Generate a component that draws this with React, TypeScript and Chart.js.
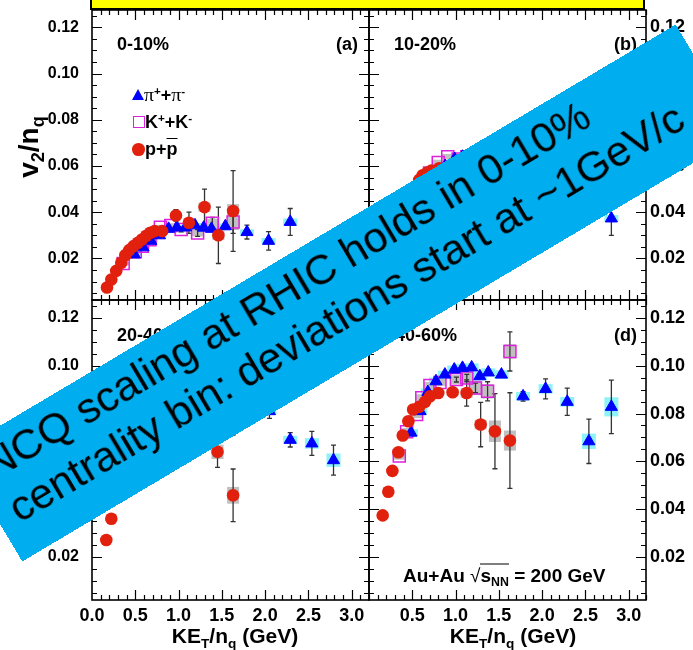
import React, { useEffect, useRef } from "react";
import { Chart, registerables } from "chart.js";

Chart.register(...registerables);

const FONT = "'Liberation Sans', Arial, Helvetica, sans-serif";
const W = 693;
const H = 650;

// ---- axes ----
const xMin = 0;
const xMax = 3.2;
const yMin = 0.002;
const yMax = 0.1275;
const xTickValues = [0, 0.5, 1.0, 1.5, 2.0, 2.5, 3.0];
const yTickValues = [0.02, 0.04, 0.06, 0.08, 0.1, 0.12];
const xMinorStep = 0.1;
const yMinorStep = 0.005;

// ---- panel (a) 0-10% ----
const aPiKE = [0.49, 0.59, 0.68, 0.78, 0.885, 0.98, 1.08, 1.19, 1.29, 1.38, 1.54, 1.79, 2.04, 2.29];
const aPiV = [0.0217, 0.0248, 0.0276, 0.03, 0.0328, 0.0334, 0.0334, 0.0343, 0.0333, 0.0328, 0.0339, 0.0314, 0.0276, 0.0358];
const aPiErr = [0, 0, 0, 0, 0, 0, 0, 0.0006, 0.0008, 0.001, 0.0012, 0.003, 0.004, 0.0058];
const aPiSys = [0.0008, 0.0008, 0.0008, 0.0008, 0.0008, 0.0009, 0.0009, 0.001, 0.001, 0.001, 0.0012, 0.0012, 0.0012, 0.0015];
const aKKE = [0.36, 0.5, 0.58, 0.67, 0.79, 0.91, 1.03, 1.22, 1.39, 1.63];
const aKV = [0.0178, 0.0229, 0.0253, 0.0281, 0.0335, 0.0342, 0.0325, 0.031, 0.0352, 0.0358];
const aKErr = [0, 0, 0, 0, 0, 0, 0.001, 0.0015, 0.0025, 0.005];
const aKSys = [0.0008, 0.0008, 0.0008, 0.0008, 0.001, 0.001, 0.0012, 0.0015, 0.002, 0.0035];
const aPKE = [0.173, 0.223, 0.28, 0.338, 0.385, 0.43, 0.48, 0.53, 0.577, 0.627, 0.673, 0.723, 0.81, 0.97, 1.12, 1.3, 1.46, 1.63];
const aPV = [0.0074, 0.0109, 0.0146, 0.0181, 0.0214, 0.0236, 0.0253, 0.0268, 0.0282, 0.0298, 0.0311, 0.0318, 0.0318, 0.0386, 0.0354, 0.0422, 0.03, 0.0405];
const aPErr = [0, 0, 0, 0, 0, 0, 0, 0, 0, 0, 0, 0, 0.0008, 0.0025, 0.0046, 0.0078, 0.0122, 0.0175];
const aPSys = [0, 0, 0, 0, 0, 0, 0, 0, 0, 0, 0, 0, 0.0008, 0.001, 0.0015, 0.002, 0.002, 0.003];

// ---- panel (b) 10-20% ----
const bPiKE = [0.49, 0.59, 0.68, 0.78, 0.88, 0.99, 1.08, 1.19, 1.29, 1.38, 1.54, 1.79, 2.04, 2.29, 2.55, 2.8];
const bPiV = [0.046, 0.051, 0.055, 0.058, 0.06, 0.063, 0.064, 0.065, 0.065, 0.065, 0.064, 0.062, 0.06, 0.057, 0.052, 0.0373];
const bPiErr = [0, 0, 0, 0, 0, 0, 0, 0.0008, 0.001, 0.001, 0.0015, 0.002, 0.003, 0.004, 0.0055, 0.0073];
const bPiSys = [0.0009, 0.0009, 0.0009, 0.0009, 0.0009, 0.002, 0.001, 0.001, 0.001, 0.001, 0.0012, 0.0012, 0.0012, 0.0014, 0.0015, 0.0015];
const bKKE = [0.36, 0.44, 0.55, 0.61, 0.7, 0.8, 0.91, 1.03, 1.13, 1.23, 1.37, 1.63];
const bKV = [0.037, 0.043, 0.05, 0.053, 0.057, 0.0615, 0.064, 0.063, 0.064, 0.063, 0.062, 0.066];
const bKErr = [0, 0, 0, 0, 0, 0, 0, 0.001, 0.0015, 0.002, 0.003, 0.007];
const bKSys = [0.001, 0.001, 0.001, 0.001, 0.001, 0.0012, 0.0012, 0.0015, 0.002, 0.002, 0.0025, 0.003];
const bPKE = [0.16, 0.22, 0.27, 0.34, 0.39, 0.455, 0.51, 0.58, 0.62, 0.67, 0.72, 0.81, 0.97, 1.13, 1.29, 1.46, 1.63];
const bPV = [0.017, 0.024, 0.03, 0.036, 0.041, 0.046, 0.05, 0.054, 0.056, 0.057, 0.058, 0.059, 0.061, 0.062, 0.055, 0.056, 0.05];
const bPErr = [0, 0, 0, 0, 0, 0, 0, 0, 0, 0, 0, 0, 0.002, 0.003, 0.005, 0.008, 0.012];
const bPSys = [0, 0, 0, 0, 0, 0, 0, 0, 0, 0, 0, 0, 0.0012, 0.0015, 0.002, 0.0025, 0.003];

// ---- panel (c) 20-40% ----
const cPiKE = [0.49, 0.59, 0.68, 0.78, 0.88, 0.98, 1.08, 1.19, 1.29, 1.38, 1.54, 1.79, 2.05, 2.29, 2.54, 2.79];
const cPiV = [0.063, 0.069, 0.074, 0.078, 0.082, 0.084, 0.086, 0.087, 0.087, 0.087, 0.086, 0.084, 0.081, 0.069, 0.0675, 0.0605];
const cPiErr = [0, 0, 0, 0, 0, 0, 0, 0.0008, 0.001, 0.001, 0.0012, 0.002, 0.003, 0.003, 0.005, 0.0063];
const cPiSys = [0.0012, 0.0012, 0.0012, 0.0012, 0.0012, 0.0013, 0.0013, 0.0013, 0.0013, 0.0013, 0.0015, 0.0015, 0.0015, 0.0017, 0.0022, 0.0028];
const cKKE = [0.36, 0.44, 0.55, 0.61, 0.7, 0.8, 0.91, 1.03, 1.13, 1.23, 1.37, 1.63];
const cKV = [0.05, 0.058, 0.066, 0.07, 0.074, 0.079, 0.082, 0.083, 0.084, 0.082, 0.08, 0.078];
const cKErr = [0, 0, 0, 0, 0, 0, 0, 0.001, 0.0015, 0.002, 0.003, 0.007];
const cKSys = [0.0012, 0.0012, 0.0012, 0.0012, 0.0012, 0.0014, 0.0015, 0.0018, 0.002, 0.0025, 0.003, 0.0035];
const cPKE = [0.165, 0.223, 0.27, 0.34, 0.39, 0.455, 0.51, 0.58, 0.647, 0.704, 0.8, 0.97, 1.13, 1.29, 1.45, 1.63];
const cPV = [0.0271, 0.036, 0.045, 0.052, 0.058, 0.063, 0.067, 0.07, 0.073, 0.075, 0.077, 0.078, 0.078, 0.072, 0.064, 0.0458];
const cPErr = [0, 0, 0, 0, 0, 0, 0, 0, 0, 0, 0, 0.002, 0.003, 0.0045, 0.0065, 0.011];
const cPSys = [0, 0, 0, 0, 0, 0, 0, 0, 0, 0, 0, 0.0015, 0.002, 0.0025, 0.003, 0.0035];

// ---- panel (d) 40-60% ----
const dPiKE = [0.485, 0.59, 0.68, 0.774, 0.877, 0.985, 1.08, 1.186, 1.28, 1.378, 1.53, 1.78, 2.04, 2.29, 2.54, 2.8];
const dPiV = [0.072, 0.081, 0.089, 0.0935, 0.0963, 0.0984, 0.0991, 0.0993, 0.0956, 0.0972, 0.0963, 0.0872, 0.0903, 0.0849, 0.0684, 0.0828];
const dPiErr = [0, 0, 0, 0, 0, 0, 0, 0, 0.001, 0.001, 0.0012, 0.002, 0.0042, 0.0057, 0.0093, 0.0112];
const dPiSys = [0.0015, 0.0015, 0.0015, 0.0016, 0.0016, 0.0017, 0.0017, 0.0017, 0.0017, 0.0017, 0.0018, 0.0018, 0.002, 0.002, 0.0032, 0.004];
const dKKE = [0.35, 0.435, 0.55, 0.61, 0.704, 0.82, 1.01, 1.13, 1.23, 1.37, 1.628];
const dKV = [0.0622, 0.0724, 0.0796, 0.0866, 0.0917, 0.093, 0.0942, 0.0949, 0.0907, 0.0893, 0.106];
const dKErr = [0, 0, 0, 0, 0, 0, 0.001, 0.0015, 0.002, 0.004, 0.0082];
const dKSys = [0.0015, 0.0015, 0.0015, 0.0015, 0.0015, 0.0015, 0.002, 0.0025, 0.003, 0.003, 0.003];
const dPKE = [0.158, 0.223, 0.27, 0.34, 0.39, 0.455, 0.51, 0.58, 0.647, 0.704, 0.8, 0.966, 1.128, 1.29, 1.455, 1.628];
const dPV = [0.0374, 0.0473, 0.056, 0.0638, 0.0708, 0.0768, 0.0817, 0.0828, 0.0849, 0.0872, 0.0886, 0.0889, 0.0886, 0.0754, 0.0726, 0.0687];
const dPErr = [0, 0, 0, 0, 0, 0, 0, 0, 0, 0, 0, 0.002, 0.0055, 0.0093, 0.0157, 0.02];
const dPSys = [0, 0, 0, 0, 0, 0, 0, 0, 0, 0, 0, 0.0015, 0.002, 0.002, 0.0045, 0.0042];

// ---- colours ----
const BLUE = "#0000FF";
const MAGENTA = "#DD22DD";
const RED = "#E2200E";
const CYAN = "#8EF2F8";
const GRAY = "#C0C0C0";
const ERRC = "#333333";
const BANNER = "#00AEEF";
const YELLOW = "#FFFF00";

type Side = "left" | "right";
interface PanelDef {
  l: number; r: number; t: number; b: number;
  ySide: Side; showX: boolean; hideZeroX: boolean;
  pi: number[][]; k: number[][]; p: number[][];
}

const panels: PanelDef[] = [
  { l: 92, r: 369, t: 10, b: 300, ySide: "left", showX: false, hideZeroX: false,
    pi: [aPiKE, aPiV, aPiErr, aPiSys], k: [aKKE, aKV, aKErr, aKSys], p: [aPKE, aPV, aPErr, aPSys] },
  { l: 369, r: 646, t: 10, b: 300, ySide: "right", showX: false, hideZeroX: true,
    pi: [bPiKE, bPiV, bPiErr, bPiSys], k: [bKKE, bKV, bKErr, bKSys], p: [bPKE, bPV, bPErr, bPSys] },
  { l: 92, r: 369, t: 300, b: 600, ySide: "left", showX: true, hideZeroX: false,
    pi: [cPiKE, cPiV, cPiErr, cPiSys], k: [cKKE, cKV, cKErr, cKSys], p: [cPKE, cPV, cPErr, cPSys] },
  { l: 369, r: 646, t: 300, b: 600, ySide: "right", showX: true, hideZeroX: true,
    pi: [dPiKE, dPiV, dPiErr, dPiSys], k: [dKKE, dKV, dKErr, dKSys], p: [dPKE, dPV, dPErr, dPSys] },
];

const pts = (xs: number[], ys: number[]) => xs.map((x, i) => ({ x, y: ys[i] }));

const errPlugin = {
  id: "errSys",
  beforeDatasetsDraw(chart: any) {
    const { ctx, chartArea, scales } = chart;
    const x = scales.x, y = scales.y;
    ctx.save();
    ctx.beginPath();
    ctx.rect(chartArea.left, chartArea.top, chartArea.right - chartArea.left, chartArea.bottom - chartArea.top);
    ctx.clip();
    chart.data.datasets.forEach((ds: any) => {
      if (!ds.sys) return;
      ctx.fillStyle = ds.sysColor;
      ds.data.forEach((pt: any, i: number) => {
        const s = ds.sys[i];
        if (!s) return;
        const px = x.getPixelForValue(pt.x);
        const y1 = y.getPixelForValue(pt.y + s);
        const y2 = y.getPixelForValue(pt.y - s);
        ctx.fillRect(px - ds.sysW / 2, y1, ds.sysW, y2 - y1);
      });
    });
    ctx.strokeStyle = ERRC;
    ctx.lineWidth = 1.3;
    chart.data.datasets.forEach((ds: any) => {
      if (!ds.err) return;
      ds.data.forEach((pt: any, i: number) => {
        const e = ds.err[i];
        if (!e) return;
        const px = x.getPixelForValue(pt.x);
        const y1 = y.getPixelForValue(pt.y + e);
        const y2 = y.getPixelForValue(pt.y - e);
        ctx.beginPath();
        ctx.moveTo(px, y1); ctx.lineTo(px, y2);
        ctx.moveTo(px - 2.5, y1); ctx.lineTo(px + 2.5, y1);
        ctx.moveTo(px - 2.5, y2); ctx.lineTo(px + 2.5, y2);
        ctx.stroke();
      });
    });
    ctx.restore();
  },
};

const framePlugin = {
  id: "frameTicks",
  afterDraw(chart: any) {
    const { ctx, chartArea, scales } = chart;
    const { left, right, top, bottom } = chartArea;
    const x = scales.x, y = scales.y;
    ctx.save();
    ctx.strokeStyle = "#000";
    ctx.lineWidth = 1.6;
    ctx.strokeRect(left, top, right - left, bottom - top);
    ctx.lineWidth = 1.2;
    ctx.beginPath();
    for (let k = 0; k * xMinorStep <= xMax + 1e-9; k++) {
      const v = k * xMinorStep;
      if (v <= xMin + 1e-9) continue;
      const major = xTickValues.some((t) => Math.abs(t - v) < 1e-6);
      const len = major ? 10 : 5;
      const px = Math.round(x.getPixelForValue(v)) + 0.5;
      ctx.moveTo(px, bottom); ctx.lineTo(px, bottom - len);
      ctx.moveTo(px, top); ctx.lineTo(px, top + len);
    }
    for (let k = Math.ceil(yMin / yMinorStep); k * yMinorStep <= yMax + 1e-9; k++) {
      const v = k * yMinorStep;
      const major = yTickValues.some((t) => Math.abs(t - v) < 1e-6);
      const len = major ? 10 : 5;
      const py = Math.round(y.getPixelForValue(v)) + 0.5;
      ctx.moveTo(left, py); ctx.lineTo(left + len, py);
      ctx.moveTo(right, py); ctx.lineTo(right - len, py);
    }
    ctx.stroke();
    ctx.restore();
  },
};

const zeroPad = (s: any) => {
  s.paddingTop = 0;
  s.paddingBottom = 0;
  s.paddingLeft = 0;
  s.paddingRight = 0;
};

function makeConfig(p: PanelDef): any {
  const [piX, piY, piE, piS] = p.pi;
  const [kX, kY, kE, kS] = p.k;
  const [pX, pY, pE, pS] = p.p;
  const leftSide = p.ySide === "left";
  return {
    type: "scatter",
    data: {
      datasets: [
        { label: "p+p", data: pts(pX, pY), err: pE, sys: pS, sysColor: GRAY, sysW: 12,
          pointStyle: "circle", pointRadius: 6.3, pointHoverRadius: 6.3,
          backgroundColor: RED, borderColor: RED, borderWidth: 0, showLine: false },
        { label: "pi", data: pts(piX, piY), err: piE, sys: piS, sysColor: CYAN, sysW: 14,
          pointStyle: "triangle", pointRadius: 7, pointHoverRadius: 7,
          backgroundColor: BLUE, borderColor: BLUE, borderWidth: 1, showLine: false },
        { label: "K", data: pts(kX, kY), err: kE, sys: kS, sysColor: GRAY, sysW: 12,
          pointStyle: "rect", pointRadius: 8.5, pointHoverRadius: 8.5,
          backgroundColor: "rgba(0,0,0,0)", borderColor: MAGENTA, borderWidth: 1.5, showLine: false },
      ],
    },
    options: {
      responsive: false,
      animation: false,
      devicePixelRatio: 1,
      events: [],
      layout: {
        padding: {
          left: leftSide ? 0 : p.l,
          right: leftSide ? W - p.r : 0,
          top: p.t,
          bottom: 0,
        },
      },
      plugins: { legend: { display: false }, tooltip: { enabled: false }, title: { display: false } },
      scales: {
        x: {
          type: "linear", min: xMin, max: xMax,
          grid: { display: false, drawTicks: false }, border: { display: false },
          afterBuildTicks: (s: any) => { s.ticks = xTickValues.map((v) => ({ value: v })); },
          afterFit: (s: any) => { s.height = H - p.b; zeroPad(s); },
          ticks: {
            display: p.showX, padding: 5, color: "#000", autoSkip: false, maxRotation: 0,
            font: { family: FONT, size: 18, weight: "bold" },
            callback: (v: any) => (p.hideZeroX && Math.abs(Number(v)) < 1e-9 ? "" : Number(v).toFixed(1)),
          },
        },
        y: {
          type: "linear", position: p.ySide, min: yMin, max: yMax,
          grid: { display: false, drawTicks: false }, border: { display: false },
          afterBuildTicks: (s: any) => { s.ticks = yTickValues.map((v) => ({ value: v })); },
          afterFit: (s: any) => { s.width = leftSide ? p.l : W - p.r; zeroPad(s); },
          ticks: {
            padding: leftSide ? 13 : 4, color: "#000",
            font: { family: FONT, size: leftSide ? 16 : 18, weight: "bold" },
            callback: (v: any) => Number(v).toFixed(2),
          },
        },
      },
    },
    plugins: [errPlugin, framePlugin],
  };
}

const Sub = ({ children }: { children: any }) => (
  <span style={{ fontSize: "0.65em", position: "relative", top: "0.35em" }}>{children}</span>
);
const Sup = ({ children }: { children: any }) => (
  <span style={{ fontSize: "0.65em", position: "relative", top: "-0.5em" }}>{children}</span>
);

function Label(props: { x: number; y: number; align?: string; size?: number; children: any; style?: any }) {
  const { x, y, align = "left", size = 18, children, style } = props;
  const tx = align === "right" ? "-100%" : align === "center" ? "-50%" : "0";
  return (
    <div
      style={{
        position: "absolute", left: x, top: y, transform: `translate(${tx}, -50%)`,
        whiteSpace: "nowrap", font: `bold ${size}px ${FONT}`, lineHeight: 1, color: "#000",
        ...style,
      }}
    >
      {children}
    </div>
  );
}

export default function App() {
  const refs = [useRef<HTMLCanvasElement>(null), useRef<HTMLCanvasElement>(null), useRef<HTMLCanvasElement>(null), useRef<HTMLCanvasElement>(null)];

  useEffect(() => {
    document.body.style.margin = "0";
    const charts = panels.map((p, i) => new Chart(refs[i].current as HTMLCanvasElement, makeConfig(p)));
    return () => charts.forEach((c) => c.destroy());
  }, []);

  const pi = <span style={{ fontFamily: "'Liberation Serif', 'DejaVu Serif', serif", fontWeight: "normal", fontSize: "1.1em" }}>π</span>;

  return (
    <div style={{ position: "fixed", left: 0, top: 0, width: W, height: H, overflow: "hidden", background: "#fff" }}>
      {refs.map((r, i) => (
        <canvas key={i} ref={r} width={W} height={H} style={{ position: "absolute", left: 0, top: 0, width: W, height: H }} />
      ))}

      {/* panel labels */}
      <Label x={117} y={44}>0-10%</Label>
      <Label x={358} y={44} align="right">(a)</Label>
      <Label x={394} y={44}>10-20%</Label>
      <Label x={637} y={44} align="right">(b)</Label>
      <Label x={117} y={335}>20-40%</Label>
      <Label x={358} y={335} align="right">(c)</Label>
      <Label x={395} y={335}>40-60%</Label>
      <Label x={637} y={335} align="right">(d)</Label>

      {/* legend */}
      <div style={{ position: "absolute", left: 132, top: 89, width: 0, height: 0, borderLeft: "6.5px solid transparent", borderRight: "6.5px solid transparent", borderBottom: `11px solid ${BLUE}` }} />
      <Label x={144} y={95}>{pi}<Sup>+</Sup>+{pi}<Sup>-</Sup></Label>
      <div style={{ position: "absolute", left: 132.5, top: 115.5, width: 12, height: 12, boxSizing: "border-box", border: `1.5px solid ${MAGENTA}` }} />
      <Label x={145} y={122}>K<Sup>+</Sup>+K<Sup>-</Sup></Label>
      <div style={{ position: "absolute", left: 132.4, top: 143, width: 12.6, height: 12.6, borderRadius: "50%", background: RED }} />
      <Label x={145} y={149}>p+<span style={{ textDecoration: "overline" }}>p</span></Label>

      {/* energy label */}
      <Label x={403} y={575} size={19}>
        Au+Au <span style={{ fontWeight: "normal" }}>√</span><span style={{ borderTop: "1.5px solid #000" }}>s<Sub>NN</Sub></span> = 200 GeV
      </Label>

      {/* axis titles */}
      <Label x={235} y={635} align="center" size={21}>KE<Sub>T</Sub>/n<Sub>q</Sub> (GeV)</Label>
      <Label x={513} y={635} align="center" size={21}>KE<Sub>T</Sub>/n<Sub>q</Sub> (GeV)</Label>
      <div style={{ position: "absolute", left: 29, top: 147, transform: "translate(-50%, -50%) rotate(-90deg)", whiteSpace: "nowrap", font: `bold 28px ${FONT}`, lineHeight: 1 }}>
        v<Sub>2</Sub>/n<Sub>q</Sub>
      </div>
      <div style={{ position: "absolute", left: 29, top: 437, transform: "translate(-50%, -50%) rotate(-90deg)", whiteSpace: "nowrap", font: `bold 28px ${FONT}`, lineHeight: 1 }}>
        v<Sub>2</Sub>/n<Sub>q</Sub>
      </div>

      {/* banner */}
      <div style={{ position: "absolute", left: 349 - 418, top: 292.5 - 64, width: 836, height: 128, background: BANNER, transform: "rotate(-30.7deg)", transformOrigin: "50% 50%" }}>
        <div style={{ position: "absolute", left: 17, top: 4, font: `42.7px ${FONT}`, lineHeight: "50px", color: "#000", whiteSpace: "nowrap" }}>
          <div>NCQ scaling at RHIC holds in 0-10%</div>
          <div>centrality bin: deviations start at ~1GeV/c</div>
        </div>
      </div>

      {/* yellow title box (cut off at top) */}
      <div style={{ position: "absolute", left: 90, top: -20, width: 555, height: 30, boxSizing: "border-box", background: YELLOW, border: "2px solid #000" }} />
    </div>
  );
}
